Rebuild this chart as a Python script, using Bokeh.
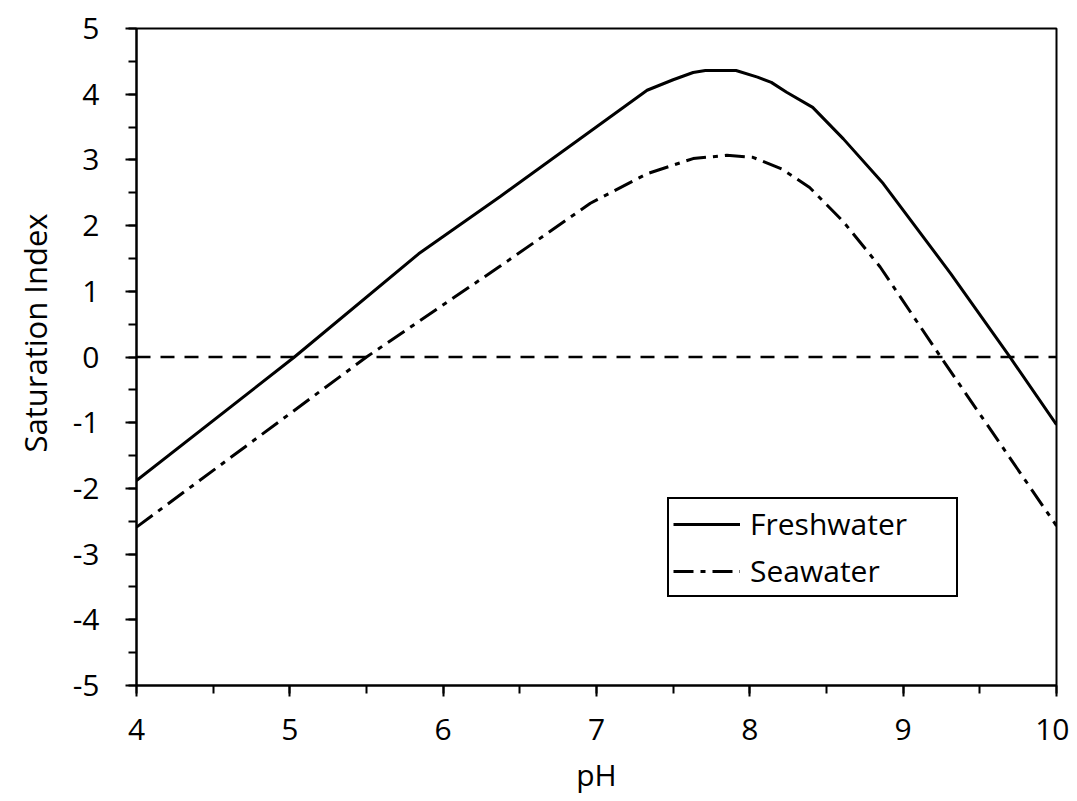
from bokeh.plotting import figure
from bokeh.models import Span, Legend, LegendItem, SingleIntervalTicker, Range1d, Title
from bokeh.embed import file_html
from bokeh.resources import INLINE

# ---- data ----
fresh_ph = [4.0, 5.03, 5.84, 6.37, 7.33, 7.50, 7.63, 7.71, 7.91, 8.05, 8.14, 8.24, 8.41, 8.61, 8.87, 9.31, 9.69, 10.0]
fresh_si = [-1.88, 0.0, 1.57, 2.44, 4.06, 4.22, 4.33, 4.36, 4.36, 4.26, 4.18, 4.03, 3.80, 3.32, 2.64, 1.27, 0.02, -1.03]

sea_ph = [4.0, 5.50, 6.37, 6.96, 7.33, 7.63, 7.85, 8.02, 8.21, 8.39, 8.61, 8.85, 9.245, 10.0]
sea_si = [-2.59, 0.0, 1.38, 2.34, 2.79, 3.02, 3.07, 3.04, 2.86, 2.58, 2.06, 1.37, 0.0, -2.57]

x_ticks = [4, 5, 6, 7, 8, 9, 10]
x_tick_labels = ["4", "5", "6", "7", "8", "9", "10"]
y_ticks = [-5, -4, -3, -2, -1, 0, 1, 2, 3, 4, 5]
y_tick_labels = ["-5", "-4", "-3", "-2", "-1", "0", "1", "2", "3", "4", "5"]

FONT = "Open Sans"

p = figure(width=1069, height=798, output_backend="svg", toolbar_location=None,
           x_range=Range1d(4, 10), y_range=Range1d(-5, 5),
           min_border_left=136, min_border_top=28, min_border_right=13, min_border_bottom=113)
p.background_fill_color = "white"
p.border_fill_color = "white"
p.xgrid.visible = False
p.ygrid.visible = False
p.outline_line_color = "black"
p.outline_line_width = 2

# zero reference line
p.add_layout(Span(location=0, dimension="width", line_color="black",
                  line_width=2.5, line_dash="14 10"))

r1 = p.line(fresh_ph, fresh_si, line_color="black", line_width=3)
r2 = p.line(sea_ph, sea_si, line_color="black", line_width=3, line_dash="20 7 5 7")

for ax, ticks, labels in ((p.xaxis[0], x_ticks, x_tick_labels), (p.yaxis[0], y_ticks, y_tick_labels)):
    ax.ticker = SingleIntervalTicker(interval=1, num_minor_ticks=2)
    ax.major_label_overrides = {t: l for t, l in zip(ticks, labels)}
    ax.axis_line_color = "black"
    ax.axis_line_width = 2
    ax.major_tick_line_color = "black"
    ax.major_tick_line_width = 2
    ax.minor_tick_line_color = "black"
    ax.minor_tick_line_width = 2
    ax.major_tick_in = 0
    ax.major_tick_out = 11
    ax.minor_tick_in = 0
    ax.minor_tick_out = 8
    ax.major_label_text_font = FONT
    ax.major_label_text_font_size = "30px"
    ax.major_label_text_color = "black"
    ax.axis_label_text_font = FONT
    ax.axis_label_text_font_size = "30px"
    ax.axis_label_text_font_style = "normal"
    ax.axis_label_text_color = "black"

p.xaxis.axis_label = "pH"
p.xaxis.major_label_standoff = 22
p.yaxis.major_label_standoff = 26
p.xaxis.axis_label_standoff = 11

# y axis title as a side title so it can be shifted like the original
ytitle = Title(text="Saturation Index", align="left", offset=233,
               text_font=FONT, text_font_size="31px", text_font_style="normal",
               text_color="black", standoff=25, vertical_align="middle",
               text_line_height=1.0)
p.add_layout(ytitle, "left")

legend = Legend(items=[LegendItem(label="Freshwater", renderers=[r1]),
                       LegendItem(label="Seawater", renderers=[r2])],
                location=(531, 88))
legend.border_line_color = "black"
legend.border_line_alpha = 1
legend.border_line_width = 2
legend.background_fill_color = "white"
legend.background_fill_alpha = 1
legend.label_text_font = FONT
legend.label_text_font_size = "30px"
legend.label_text_color = "black"
legend.glyph_width = 67
legend.glyph_height = 30
legend.label_height = 30
legend.label_width = 202
legend.label_standoff = 10
legend.spacing = 6
legend.padding = 4
legend.margin = 0
p.add_layout(legend, "center")

open("out.html", "w").write(file_html(p, INLINE))
